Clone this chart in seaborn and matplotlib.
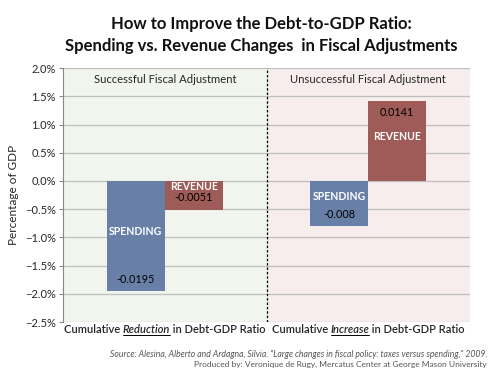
import matplotlib
matplotlib.use("Agg")
import matplotlib.pyplot as plt
import seaborn as sns
import pandas as pd
from matplotlib.ticker import PercentFormatter
from matplotlib.lines import Line2D

groups = ["Reduction", "Increase"]
components = ["SPENDING", "REVENUE"]
spending = [-0.0195, -0.008]
revenue = [-0.0051, 0.0141]
section_titles = ["Successful Fiscal Adjustment", "Unsuccessful Fiscal Adjustment"]
yticks = [-0.025, -0.02, -0.015, -0.01, -0.005, 0.0, 0.005, 0.01, 0.015, 0.02]

df = pd.DataFrame({
    "group": groups * 2,
    "component": [components[0]] * 2 + [components[1]] * 2,
    "value": spending + revenue,
})

sns.set_style("white")
plt.rcParams["font.family"] = ["Lato", "DejaVu Sans"]

BLUE = "#5D7DB3"
RED = "#AA504B"

fig = plt.figure(figsize=(5, 3.74), dpi=100)
ax = fig.add_axes([0.126, 0.139, 0.814, 0.679])

ax.axvspan(-0.5, 0.5, color="#F1F5EE", zorder=0)
ax.axvspan(0.5, 1.5, color="#F6EDEC", zorder=0)

sns.barplot(data=df, x="group", y="value", hue="component", order=groups,
            hue_order=components, palette=[BLUE, RED], width=0.57, gap=0,
            dodge=True, legend=False, ax=ax, zorder=3, edgecolor="none",
            errorbar=None)

ax.set_xlim(-0.5, 1.5)
ax.set_ylim(-0.025, 0.02)
ax.set_yticks(yticks)
ax.yaxis.set_major_formatter(PercentFormatter(xmax=1, decimals=1))
ax.grid(axis="y", color="#BEBEBE", linewidth=0.9, zorder=1)
ax.set_axisbelow(True)
ax.set_xticks([])
ax.set_xlabel("")
ax.set_ylabel("Percentage of GDP", fontsize=8.5, labelpad=4)
ax.tick_params(axis="y", labelsize=8, length=3, color="#888888", left=True, pad=2)
for s in ["top", "right", "bottom"]:
    ax.spines[s].set_visible(False)
ax.spines["left"].set_color("#888888")
ax.spines["left"].set_linewidth(0.8)

ax.axvline(0.5, color="black", linestyle=(0, (2, 1.5)), linewidth=0.9, zorder=4)

for i, t in enumerate(section_titles):
    ax.text(i, 0.018, t, ha="center", va="center", fontsize=8.1, zorder=5)

off = 0.1425
lab_kw = dict(ha="center", va="center", zorder=5)
name_kw = dict(color="white", fontweight="bold", fontsize=7.6, **lab_kw)
val_kw = dict(color="black", fontsize=7.8, **lab_kw)
# Left group
ax.text(0 - off, -0.009, components[0], **name_kw)
ax.text(0 - off, -0.0175, f"{spending[0]}", **val_kw)
ax.text(0 + off, -0.0009, components[1], **name_kw)
ax.text(0 + off, -0.003, f"{revenue[0]}", **val_kw)
# Right group
ax.text(1 - off, -0.0027, components[0], **name_kw)
ax.text(1 - off, -0.006, f"{spending[1]}", **val_kw)
ax.text(1 + off, 0.0122, f"{revenue[1]}", **val_kw)
ax.text(1 + off, 0.0078, components[1], **name_kw)

fig.text(0.522, 0.935, "How to Improve the Debt-to-GDP Ratio:", ha="center", va="center",
         fontsize=12, fontweight="bold", color="#111111")
fig.text(0.522, 0.877, "Spending vs. Revenue Changes  in Fiscal Adjustments", ha="center",
         va="center", fontsize=12, fontweight="bold", color="#111111")

# x labels with italic underlined word
fig.canvas.draw()
renderer = fig.canvas.get_renderer()
for i, word in enumerate(groups):
    fs = 8.0
    parts = [("Cumulative ", "normal"), (word, "italic"), (" in Debt-GDP Ratio", "normal")]
    texts = []
    for txt, style in parts:
        t = fig.text(0, 0, txt, fontsize=fs, fontstyle=style, fontweight="semibold",
                     va="baseline", ha="left")
        texts.append(t)
    widths = [t.get_window_extent(renderer).width for t in texts]
    total = sum(widths)
    cx_disp = ax.transData.transform((i, 0))[0]
    x0 = cx_disp - total / 2
    ybase = fig.bbox.height - 333
    x = x0
    for t, w in zip(texts, widths):
        t.set_position((x / fig.bbox.width, ybase / fig.bbox.height))
        x += w
    ux0 = x0 + widths[0]
    ux1 = ux0 + widths[1]
    uy = (ybase - 2) / fig.bbox.height
    fig.add_artist(Line2D([ux0 / fig.bbox.width, ux1 / fig.bbox.width], [uy, uy],
                          transform=fig.transFigure, color="black", linewidth=0.7))

fig.text(0.974, 0.051,
         "Source: Alesina, Alberto and Ardagna, Silvia. \"Large changes in fiscal policy: taxes versus spending,\" 2009.",
         ha="right", va="center", fontsize=6.2, fontstyle="italic", color="#555555")
fig.text(0.974, 0.026,
         "Produced by: Veronique de Rugy, Mercatus Center at George Mason University",
         ha="right", va="center", fontsize=6.0, color="#555555")

fig.savefig("out.png", dpi=100)
